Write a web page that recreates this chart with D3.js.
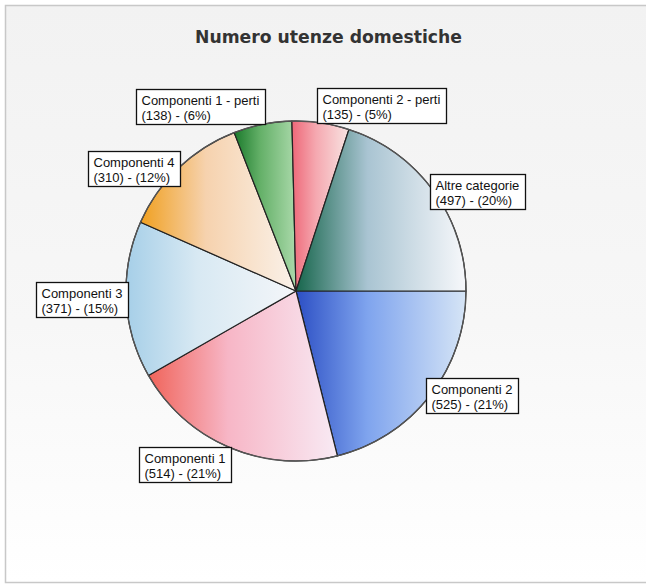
<!DOCTYPE html>
<html>
<head>
<meta charset="utf-8">
<script src="https://cdn.jsdelivr.net/npm/d3@7"></script>
<style>
  body { margin: 0; background: #fff; }
  svg { display: block; }
</style>
</head>
<body>
<div id="chart"></div>
<script>
// dati (ordine orario a partire dalle ore 3)
var categories = ['Componenti 2', 'Componenti 1', 'Componenti 3', 'Componenti 4',
    'Componenti 1 - perti', 'Componenti 2 - perti', 'Altre categorie'];
var values = [525, 514, 371, 310, 138, 135, 497];
var percents = [21, 21, 15, 12, 6, 5, 20];

// sfumature orizzontali: sinistra -> centro -> destra
var sliceColors = [
    ['#2c4fc4', '#7fa4ee', '#d6e5f6'],
    ['#f0645a', '#f7b6c6', '#f8eaf4'],
    ['#a6cfe8', '#d8e9f3', '#f4f6f9'],
    ['#f0a020', '#f6d2ae', '#faf2ea'],
    ['#1b7a2c', '#64b068', '#aad9aa'],
    ['#ee6878', '#f5a8b0', '#f8e4e2'],
    ['#17664c', '#a9c4d2', '#f7f8fb']
];

var width = 646, height = 586;
var cx = 296, cy = 291, radius = 170;

var svg = d3.select('#chart').append('svg')
    .attr('width', width)
    .attr('height', height)
    .style('font-family', '"Liberation Sans", Arial, sans-serif');

var defs = svg.append('defs');

// sfondo leggermente grigio come la scansione
var bg = defs.append('linearGradient')
    .attr('id', 'bgGrad')
    .attr('x1', 0).attr('y1', 0).attr('x2', 0).attr('y2', 1);
bg.append('stop').attr('offset', '0%').attr('stop-color', '#f2f2f2');
bg.append('stop').attr('offset', '55%').attr('stop-color', '#f7f7f7');
bg.append('stop').attr('offset', '100%').attr('stop-color', '#ffffff');

svg.append('rect')
    .attr('x', 0).attr('y', 0)
    .attr('width', width).attr('height', height)
    .style('fill', '#fff');

svg.append('rect')
    .attr('x', 5.5).attr('y', 5.5)
    .attr('width', width + 10).attr('height', height - 9)
    .style('fill', 'url(#bgGrad)')
    .style('stroke', '#c8c8c8')
    .style('stroke-width', '1.5px');

svg.append('text')
    .attr('x', 195)
    .attr('y', 43)
    .attr('textLength', 267)
    .attr('lengthAdjust', 'spacingAndGlyphs')
    .style('font-family', '"DejaVu Sans", Verdana, sans-serif')
    .style('font-weight', 'bold')
    .style('font-size', '18px')
    .style('fill', '#333')
    .text('Numero utenze domestiche');

sliceColors.forEach(function (c, i) {
    var g = defs.append('linearGradient')
        .attr('id', 'slice' + i)
        .attr('x1', 0).attr('y1', 0).attr('x2', 1).attr('y2', 0);
    g.append('stop').attr('offset', '0%').attr('stop-color', c[0]);
    g.append('stop').attr('offset', '42%').attr('stop-color', c[1]);
    g.append('stop').attr('offset', '100%').attr('stop-color', c[2]);
});

var data = categories.map(function (d, i) {
    return { name: d, value: values[i], pct: percents[i], idx: i };
});

var pie = d3.pie()
    .sort(null)
    .value(function (d) { return d.value; })
    .startAngle(Math.PI / 2)
    .endAngle(Math.PI / 2 + 2 * Math.PI);

var arc = d3.arc()
    .innerRadius(0)
    .outerRadius(radius);

var arcs = pie(data);

var pieG = svg.append('g')
    .attr('id', 'pieG')
    .attr('transform', 'translate(' + cx + ',' + cy + ')');

pieG.selectAll('path')
    .data(arcs)
    .enter()
    .append('path')
    .attr('d', arc)
    .style('fill', function (d) { return 'url(#slice' + d.data.idx + ')'; })
    .style('stroke', '#222')
    .style('stroke-width', '1.2px')
    .style('stroke-linejoin', 'round');

// bordo esterno un po' piu' chiaro
pieG.append('circle')
    .attr('r', radius)
    .style('fill', 'none')
    .style('stroke', '#555')
    .style('stroke-width', '1.3px');

// etichette: box agganciato al punto del bordo a meta' fetta
var boxH = 35;
var labelG = svg.append('g').attr('id', 'labelG');

arcs.forEach(function (d) {
    var a = (d.startAngle + d.endAngle) / 2;
    var s = Math.sin(a), c = Math.cos(a);
    var px = cx + radius * s;
    var py = cy - radius * c;

    var g = labelG.append('g');
    var t1 = g.append('text')
        .style('font-size', '13px')
        .style('fill', '#111')
        .text(d.data.name);
    var t2 = g.append('text')
        .style('font-size', '13px')
        .style('fill', '#111')
        .text('(' + d.data.value + ') - (' + d.data.pct + '%)');

    var tw = Math.max(t1.node().getComputedTextLength(), t2.node().getComputedTextLength());
    var boxW = Math.round(tw + 11);

    var bx = s >= 0 ? px - 4 : px - boxW + 2;
    var by;
    if (c > 0.8) by = py - boxH;
    else if (c < -0.8) by = py;
    else by = py - boxH / 2;
    bx = Math.round(bx) + 0.5;
    by = Math.round(by) + 0.5;

    g.insert('rect', 'text')
        .attr('x', bx)
        .attr('y', by)
        .attr('width', boxW)
        .attr('height', boxH)
        .style('fill', '#fff')
        .style('stroke', '#111')
        .style('stroke-width', '1.3px');

    t1.attr('x', bx + 5).attr('y', by + 15);
    t2.attr('x', bx + 5).attr('y', by + 30);
});
</script>
</body>
</html>
